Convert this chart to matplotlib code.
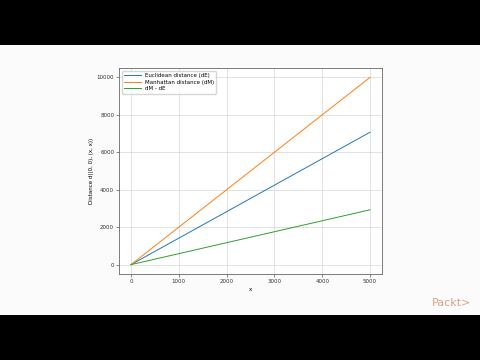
import numpy as np
import matplotlib
matplotlib.use('Agg')
import matplotlib.pyplot as plt

x = [0, 1000, 2000, 3000, 4000, 5000]
d_euclid = [0, 1414, 2828, 4243, 5657, 7071]
d_manhattan = [0, 2000, 4000, 6000, 8000, 10000]
d_diff = [0, 586, 1172, 1757, 2343, 2929]

fig = plt.figure(figsize=(4.8, 3.6), dpi=100)
fig.patch.set_facecolor('black')

# white video frame area
bg = fig.add_axes([0, 45/360, 1, 270/360])
bg.set_facecolor('#fbfbfb')
bg.set_xticks([])
bg.set_yticks([])
for s in bg.spines.values():
    s.set_visible(False)

ax = fig.add_axes([119/480, 1-274/360, 263/480, 206/360])
ax.plot(x, d_euclid, lw=0.7, label='Euclidean distance (dE)')
ax.plot(x, d_manhattan, lw=0.7, label='Manhattan distance (dM)')
ax.plot(x, d_diff, lw=0.7, label='dM - dE')
ax.grid(True, lw=0.4, color='#cccccc')
ax.set_xticks([0, 1000, 2000, 3000, 4000, 5000])
ax.set_yticks([0, 2000, 4000, 6000, 8000, 10000])
ax.tick_params(labelsize=4, length=2, width=0.4, pad=1.5, colors='#333333')
for s in ax.spines.values():
    s.set_linewidth(0.6)
    s.set_color('#666666')
ax.set_xlabel('x', fontsize=4, labelpad=2)
ax.set_ylabel('Distance d((0, 0), (x, x))', fontsize=4, labelpad=2)
ax.legend(loc='upper left', fontsize=4, frameon=True, handlelength=3,
          borderpad=0.4, labelspacing=0.3)

fig.text(452/480, 1-303/360, 'Packt>', fontsize=8, color='#e0a080',
         ha='center', va='center')

fig.savefig('out.png', dpi=100, facecolor=fig.get_facecolor())
